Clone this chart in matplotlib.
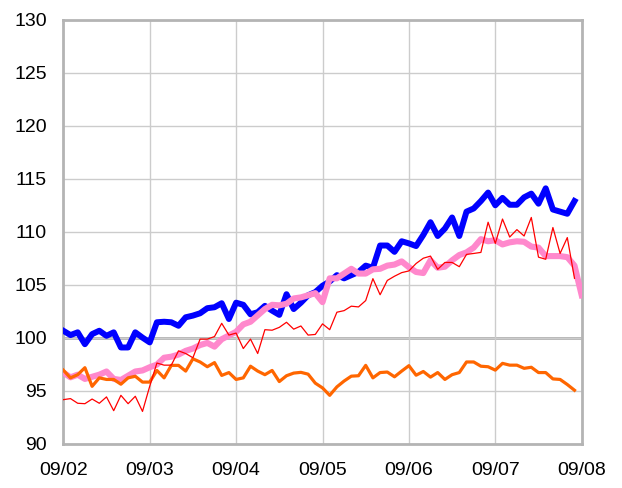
import numpy as np
import matplotlib.pyplot as plt

# semi-weekly observations, 12 per month from 09/02
month_labels = ["09/02", "09/03", "09/04", "09/05", "09/06", "09/07", "09/08"]

blue = [100.65, 100.24, 100.5, 99.38, 100.33, 100.65, 100.17, 100.5, 99.07, 99.07, 100.5, 100.0, 99.55,
        101.45, 101.5, 101.45, 101.12, 101.92, 102.08, 102.3, 102.78, 102.87, 103.25, 101.76, 103.3,
        103.1, 102.2, 102.4, 103.0, 102.55, 102.15, 104.1, 102.7, 103.3, 104.0, 104.3, 104.9,
        105.3, 105.9, 105.6, 105.9, 106.2, 106.8, 106.6, 108.7, 108.7, 108.1, 109.1, 108.9,
        108.65, 109.7, 110.9, 109.6, 110.3, 111.35, 109.6, 111.9, 112.2, 112.9, 113.7, 112.5,
        113.2, 112.55, 112.55, 113.25, 113.6, 112.65, 114.1, 112.1, 111.9, 111.7, 112.9]

pink = [96.7, 96.25, 96.5, 96.1, 96.3, 96.5, 96.8, 96.1, 96.0, 96.4, 96.8, 96.9, 97.2,
        97.45, 98.1, 98.2, 98.4, 98.75, 98.97, 99.3, 99.5, 99.15, 99.85, 100.2, 100.55,
        101.25, 101.5, 102.1, 102.7, 103.1, 103.05, 103.2, 103.7, 103.8, 104.0, 104.2, 103.35,
        105.6, 105.6, 106.05, 106.5, 106.05, 106.05, 106.45, 106.5, 106.8, 106.9, 107.2,
        106.65, 106.2, 106.1, 107.3, 106.6, 106.7, 107.3, 107.8, 108.05, 108.5, 109.3, 109.1,
        109.2, 108.8, 109.0, 109.1, 109.05, 108.6, 108.5, 107.7, 107.7, 107.7, 107.6, 106.8, 104.0]

orange = [96.93, 96.2, 96.5, 97.16, 95.4, 96.2, 96.05, 96.05, 95.6, 96.2, 96.35, 95.8, 95.8,
          96.9, 96.2, 97.38, 97.38, 96.84, 98.0, 97.7, 97.25, 97.64, 96.43, 96.7, 96.05,
          96.2, 97.3, 96.84, 96.5, 96.9, 95.85, 96.4, 96.65, 96.72, 96.55, 95.7, 95.25,
          94.55, 95.35, 95.9, 96.36, 96.4, 97.38, 96.2, 96.7, 96.75, 96.3, 96.84, 97.35,
          96.45, 96.8, 96.27, 96.7, 96.05, 96.5, 96.7, 97.7, 97.7, 97.3, 97.25, 96.93,
          97.57, 97.4, 97.4, 97.1, 97.2, 96.7, 96.7, 96.1, 96.05, 95.57, 95.03]

red = [94.14, 94.24, 93.8, 93.76, 94.2, 93.8, 94.4, 93.1, 94.55, 93.76, 94.46, 93.03, 95.4,
       97.6, 97.4, 97.4, 98.75, 98.5, 98.1, 99.86, 99.86, 100.1, 101.35, 100.24, 100.43,
       98.97, 99.86, 98.5, 100.75, 100.7, 100.97, 101.45, 100.8, 101.1, 100.24, 100.3, 101.3,
       100.75, 102.4, 102.55, 102.97, 102.9, 103.5, 105.57, 104.05, 105.4, 105.8, 106.14, 106.3,
       107.0, 107.5, 107.7, 106.45, 107.1, 107.1, 106.7, 107.86, 107.95, 108.05, 110.9, 108.9,
       111.2, 109.5, 110.2, 109.6, 111.35, 107.6, 107.4, 110.4, 107.95, 109.45, 105.6]

per_month = 12

plt.rcParams['font.family'] = ['Liberation Sans', 'DejaVu Sans']

fig = plt.figure(figsize=(6.22, 4.88), dpi=100)
ax = fig.add_axes([63.3 / 622, 1 - 443.5 / 488, (581.7 - 63.3) / 622, (443.5 - 20) / 488])

ax.plot(np.arange(len(blue)), blue, color="#0000ff", lw=4.3, solid_joinstyle="round", zorder=3)
ax.plot(np.arange(len(pink)), pink, color="#ff88cc", lw=4.4, solid_joinstyle="round", zorder=4)
ax.plot(np.arange(len(orange)), orange, color="#ff6600", lw=2.3, solid_joinstyle="round", zorder=5)
ax.plot(np.arange(len(red)), red, color="#ff0000", lw=0.9, zorder=6)

n_months = len(month_labels) - 1
ax.set_xlim(0, n_months * per_month)
ax.set_ylim(90, 130)
ax.set_xticks(np.arange(0, n_months * per_month + 1, per_month))
ax.set_xticklabels(month_labels, fontsize=14)
ax.set_yticks(np.arange(90, 131, 5))
ax.set_yticklabels([str(v) for v in range(90, 131, 5)], fontsize=14)
ax.tick_params(axis="x", length=0, pad=13)
ax.tick_params(axis="y", length=0, pad=12)

ax.grid(True, color="#cccccc", lw=1.0, zorder=0)
ax.axhline(100, color="#b0b0b0", lw=2.0, zorder=1)
for s in ax.spines.values():
    s.set_color("#b4b4b4")
    s.set_linewidth(2.0)

fig.savefig("out.png", dpi=100)
